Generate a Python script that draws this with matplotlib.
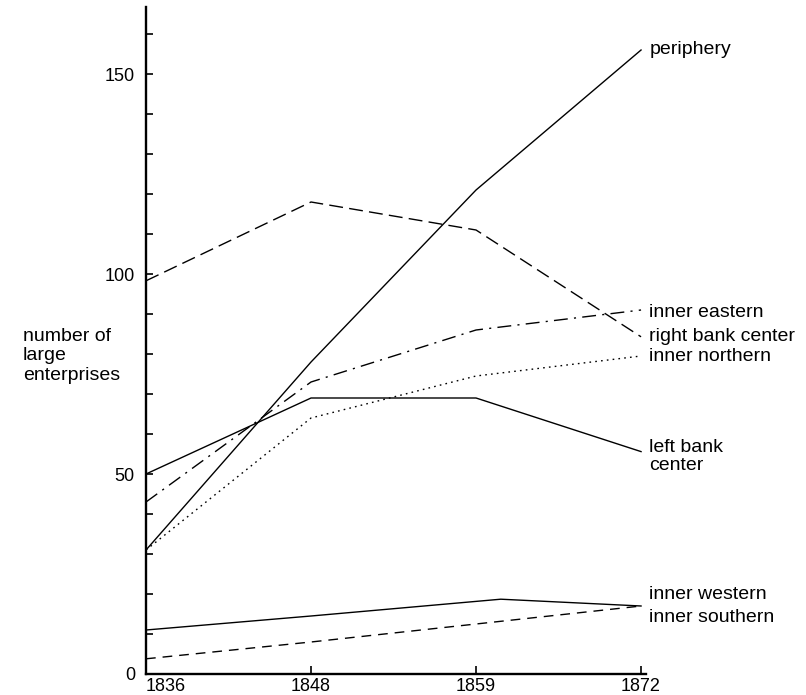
import matplotlib.pyplot as plt
import numpy as np

# Число крупных предприятий по районам
years = ['1836', '1848', '1859', '1872']

periphery = [31, 78, 121, 156]
right_bank = [98.3, 118, 111, 84.3]
inner_eastern = [43, 73, 86, 91]
inner_northern = [31, 64, 74.5, 79.5]
left_bank = [50, 69, 69, 55.6]
inner_western = [11, 14.5, 18.7, 17]
inner_western_x = [0, 1, 2.15, 3]
inner_southern = [3.8, 8, 12.5, 17]

plt.rcParams['font.family'] = ['Liberation Sans', 'DejaVu Sans']

fig = plt.figure(figsize=(8.06, 6.95), dpi=100)
ax = fig.add_axes([146 / 806, 1 - 674 / 695, (646 - 146) / 806, (674 - 7) / 695])

x = np.arange(len(years))
lw = 1.0
ax.plot(x, periphery, color='black', lw=lw, ls='-')
ax.plot(x, right_bank, color='black', lw=lw, ls=(0, (10, 4.5)))
ax.plot(x, inner_eastern, color='black', lw=lw, ls=(0, (10, 4.5, 1.5, 4.5)))
ax.plot(x, inner_northern, color='black', lw=lw, ls=(0, (1.2, 3)))
ax.plot(x, left_bank, color='black', lw=lw, ls='-')
ax.plot(inner_western_x, inner_western, color='black', lw=lw, ls='-')
ax.plot(x, inner_southern, color='black', lw=lw, ls=(0, (7, 5)))

# подписи линий справа (сдвиг в точках)
labels = [
    ('periphery', periphery[-1], 0.5),
    ('inner eastern', inner_eastern[-1], -1.5),
    ('right bank center', right_bank[-1], 0),
    ('inner northern', inner_northern[-1], -0.5),
    ('left bank\ncenter', left_bank[-1], -3.5),
    ('inner western', inner_western[-1], 8),
    ('inner southern', inner_southern[-1], -8),
]
for txt, val, dy in labels:
    ax.annotate(txt, xy=(3, val), xytext=(6, dy), textcoords='offset points',
                ha='left', va='center', fontsize=14, linespacing=1.1,
                annotation_clip=False)

ax.set_xlim(0, 3.03)
ax.set_ylim(0, 166.75)

ax.spines['top'].set_visible(False)
ax.spines['right'].set_visible(False)
ax.spines['left'].set_linewidth(1.7)
ax.spines['bottom'].set_linewidth(1.7)

ax.set_xticks(x)
ax.set_xticklabels(years)
ax.set_yticks([0, 50, 100, 150])
ax.set_yticks(np.arange(0, 161, 10), minor=True)
ax.tick_params(axis='x', direction='in', length=6, width=1.2, pad=3, labelsize=13)
ax.tick_params(axis='y', which='both', direction='in', length=5, width=1.2, pad=8, labelsize=13)
ax.get_xticklabels()[0].set_ha('left')

fig.text(23 / 806, 1 - 356 / 695, 'number of\nlarge\nenterprises', ha='left', va='center',
         fontsize=14, linespacing=1.2)

fig.savefig('out.png', dpi=100)
